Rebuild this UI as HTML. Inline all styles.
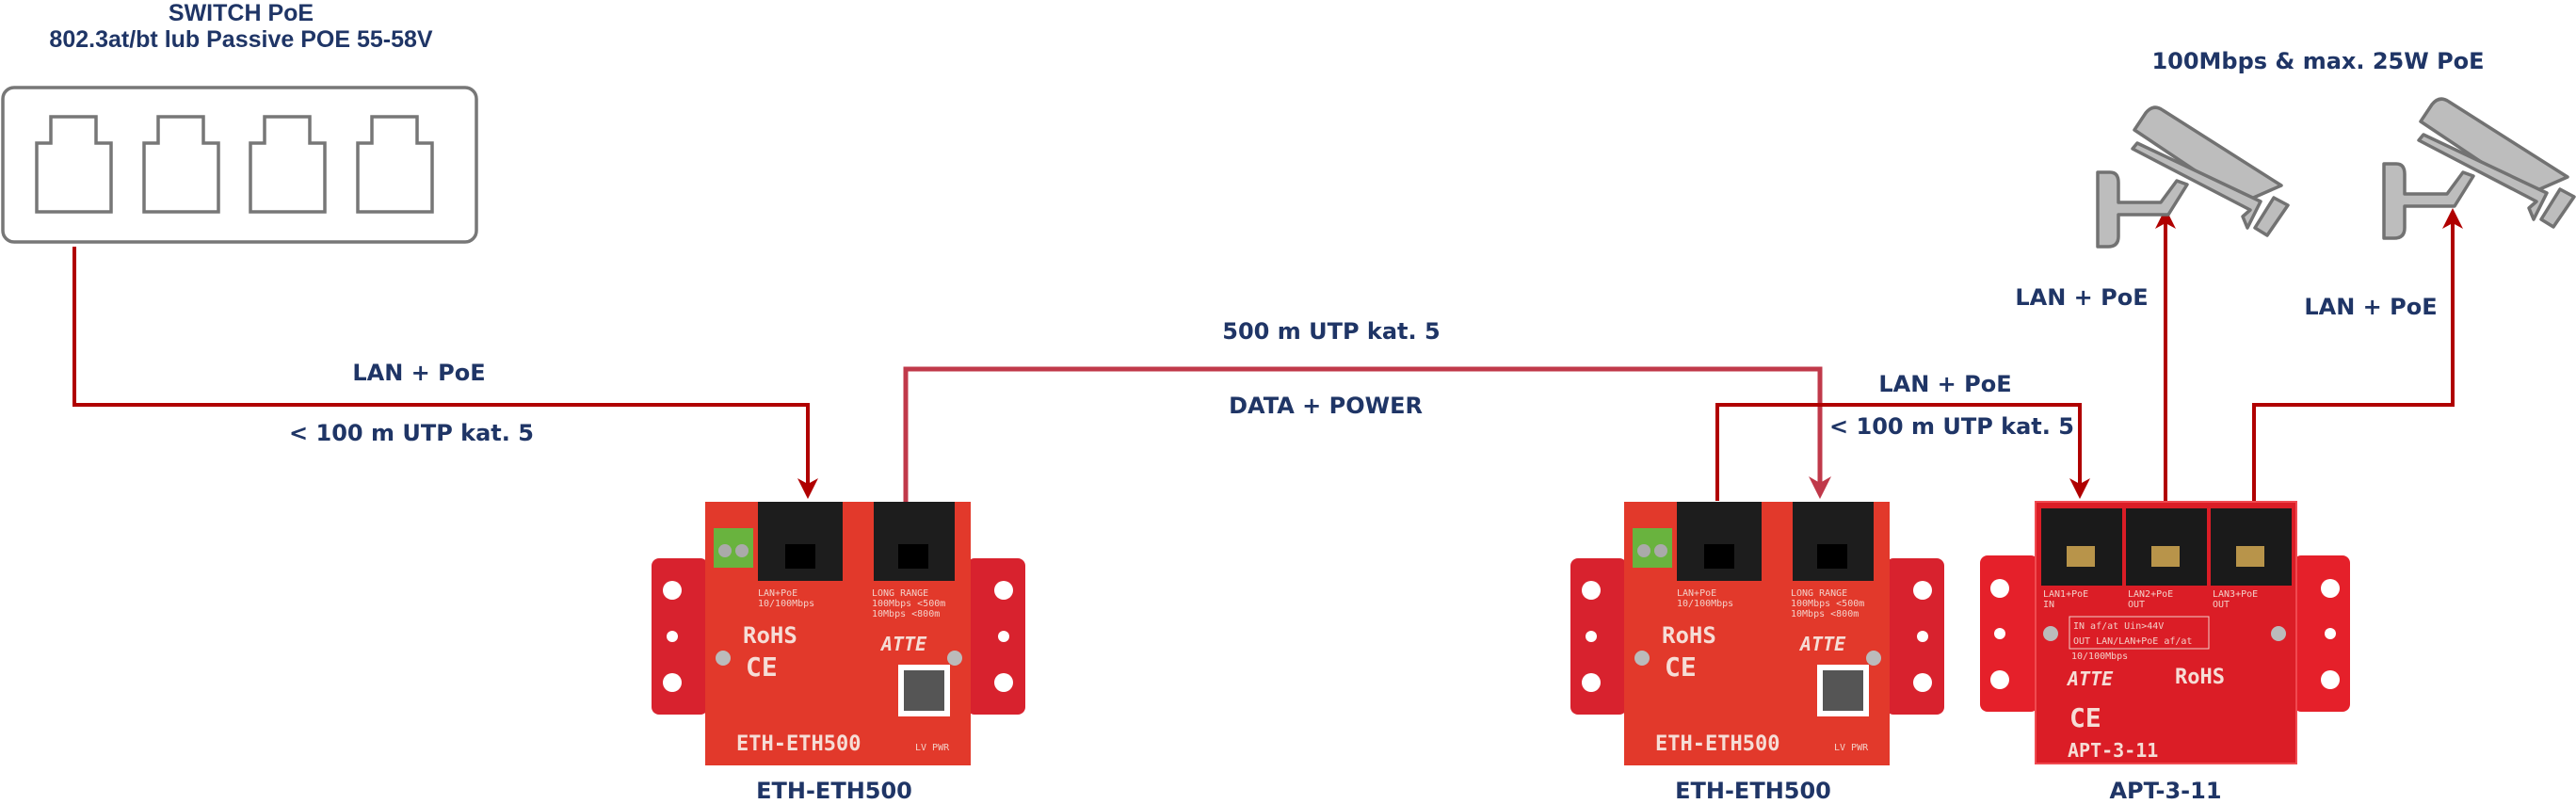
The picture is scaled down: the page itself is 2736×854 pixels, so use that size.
<!DOCTYPE html>
<html><head><meta charset="utf-8"><style>
html,body{margin:0;padding:0;background:#fff;}
svg{display:block;}
.lbl{font-family:"DejaVu Sans","Liberation Sans",sans-serif;font-weight:bold;fill:#1f3566;font-size:24px;text-anchor:middle;}
.ttl{font-family:"Liberation Sans",sans-serif;font-weight:bold;fill:#1f3566;font-size:25px;text-anchor:middle;}
.pt{font-family:"DejaVu Sans Mono","Liberation Mono",monospace;fill:#f3d0c8;font-size:10px;}
.big{font-family:"DejaVu Sans Mono","Liberation Mono",monospace;fill:#f6ddd6;font-weight:bold;}
</style></head><body>
<svg width="2736" height="854" viewBox="0 0 2736 854" xmlns="http://www.w3.org/2000/svg">
<defs>
<g id="eth">
  <rect x="0" y="60" width="60" height="166" rx="8" fill="#d8222e"/>
  <rect x="335" y="60" width="62" height="166" rx="8" fill="#d8222e"/>
  <circle cx="22" cy="94" r="10" fill="#fff"/><circle cx="22" cy="143" r="6" fill="#fff"/><circle cx="22" cy="192" r="10" fill="#fff"/>
  <circle cx="374" cy="94" r="10" fill="#fff"/><circle cx="374" cy="143" r="6" fill="#fff"/><circle cx="374" cy="192" r="10" fill="#fff"/>
  <rect x="57" y="0" width="282" height="280" fill="#e2392b"/>
  <rect x="113" y="0" width="90" height="84" fill="#1d1d1d"/>
  <rect x="142" y="45" width="32" height="26" fill="#000"/>
  <rect x="236" y="0" width="86" height="84" fill="#1d1d1d"/>
  <rect x="262" y="45" width="32" height="26" fill="#000"/>
  <rect x="66" y="28" width="42" height="42" fill="#69b33e"/>
  <circle cx="78" cy="52" r="7" fill="#aaa"/><circle cx="96" cy="52" r="7" fill="#aaa"/>
  <text class="pt" x="113" y="100">LAN+PoE</text><text class="pt" x="113" y="111">10/100Mbps</text>
  <text class="pt" x="234" y="100">LONG RANGE</text><text class="pt" x="234" y="111">100Mbps &lt;500m</text><text class="pt" x="234" y="122">10Mbps &lt;800m</text>
  <text class="big" x="97" y="150" font-size="24">RoHS</text>
  <text class="big" x="100" y="185" font-size="28">CE</text>
  <text class="big" x="244" y="158" font-size="20" font-style="italic">ATTE</text>
  <circle cx="76" cy="166" r="8" fill="#bbb"/><circle cx="322" cy="166" r="8" fill="#bbb"/>
  <rect x="262" y="173" width="55" height="55" fill="#fff"/>
  <rect x="268" y="179" width="43" height="43" fill="#555"/>
  <text class="big" x="90" y="264" font-size="22">ETH-ETH500</text>
  <text class="pt" x="280" y="264">LV PWR</text>
</g>
<g id="cam" fill="#bdbdbd" stroke="#727272" stroke-width="3.5" stroke-linejoin="round">
  <path d="M1,75 L14,75 Q23,75 23,86 L23,107 L68,107 L85,84 L96,88 L76,120 L23,120 L23,143 Q23,154 12,154 L1,154 Z"/>
  <path d="M40,30 L52,12 Q60,2 70,9 L196,89 L155,107 Z"/>
  <path d="M38,50 L43,44 L174,106 L160,134 L155,122 L163,115 Z"/>
  <path d="M188,102 L203,110 L181,142 L168,134 Z"/>
</g>
</defs>

<text class="ttl" x="256" y="22">SWITCH PoE</text>
<text class="ttl" x="256" y="50">802.3at/bt lub Passive POE 55-58V</text>
<rect x="3" y="93" width="503" height="164" rx="12" fill="#fff" stroke="#777" stroke-width="3.5"/>
<g fill="#fff" stroke="#777" stroke-width="3.5">
<path d="M39,225 L39,152 L54,152 L54,124 L102,124 L102,152 L118,152 L118,225 Z"/>
<path d="M153,225 L153,152 L168,152 L168,124 L216,124 L216,152 L232,152 L232,225 Z"/>
<path d="M266,225 L266,152 L281,152 L281,124 L329,124 L329,152 L345,152 L345,225 Z"/>
<path d="M380,225 L380,152 L395,152 L395,124 L443,124 L443,152 L459,152 L459,225 Z"/>
</g>

<g fill="none" stroke-width="4">
<path d="M79,262 L79,430 L858,430 L858,518" stroke="#b00000"/>
<path d="M962,533 L962,392 L1933,392 L1933,518" stroke="#c0394a" stroke-width="5"/>
<path d="M1824,532 L1824,430 L2209,430 L2209,518" stroke="#b00000"/>
<path d="M2300,532 L2300,232" stroke="#b00000"/>
<path d="M2394,532 L2394,430 L2605,430 L2605,232" stroke="#b00000"/>
</g>
<g fill="#b00000">
<path d="M847,508 L858,530 L869,508 L858,514 Z"/>
<path d="M2198,508 L2209,530 L2220,508 L2209,514 Z"/>
<path d="M2289,243 L2300,221 L2311,243 L2300,237 Z"/>
<path d="M2594,243 L2605,221 L2616,243 L2605,237 Z"/>
</g>
<path d="M1921,506 L1933,530 L1945,506 L1933,513 Z" fill="#c0394a"/>

<text class="lbl" x="445" y="404">LAN + PoE</text>
<text class="lbl" x="437" y="468">&lt; 100 m UTP kat. 5</text>
<text class="lbl" x="1414" y="360">500 m UTP kat. 5</text>
<text class="lbl" x="1408" y="439">DATA + POWER</text>
<text class="lbl" x="2066" y="416">LAN + PoE</text>
<text class="lbl" x="2073" y="461">&lt; 100 m UTP kat. 5</text>
<text class="lbl" x="2211" y="324">LAN + PoE</text>
<text class="lbl" x="2518" y="334">LAN + PoE</text>
<text class="lbl" x="2462" y="73">100Mbps &amp; max. 25W PoE</text>

<use href="#eth" x="692" y="533"/>
<use href="#eth" x="1668" y="533"/>

<g>
  <rect x="2103" y="590" width="62" height="166" rx="8" fill="#e5202a"/>
  <rect x="2436" y="590" width="60" height="166" rx="8" fill="#e5202a"/>
  <circle cx="2124" cy="625" r="10" fill="#fff"/><circle cx="2124" cy="673" r="6" fill="#fff"/><circle cx="2124" cy="722" r="10" fill="#fff"/>
  <circle cx="2475" cy="625" r="10" fill="#fff"/><circle cx="2475" cy="673" r="6" fill="#fff"/><circle cx="2475" cy="722" r="10" fill="#fff"/>
  <rect x="2162" y="533" width="277" height="278" fill="#db1d26" stroke="#f04a50" stroke-width="2"/>
  <rect x="2168" y="540" width="86" height="82" fill="#1a1a1a"/>
  <rect x="2258" y="540" width="86" height="82" fill="#1a1a1a"/>
  <rect x="2348" y="540" width="86" height="82" fill="#1a1a1a"/>
  <rect x="2195" y="580" width="30" height="22" fill="#b8944a"/>
  <rect x="2285" y="580" width="30" height="22" fill="#b8944a"/>
  <rect x="2375" y="580" width="30" height="22" fill="#b8944a"/>
  <text class="pt" x="2170" y="634">LAN1+PoE</text><text class="pt" x="2170" y="645">IN</text>
  <text class="pt" x="2260" y="634">LAN2+PoE</text><text class="pt" x="2260" y="645">OUT</text>
  <text class="pt" x="2350" y="634">LAN3+PoE</text><text class="pt" x="2350" y="645">OUT</text>
  <rect x="2198" y="655" width="148" height="34" fill="none" stroke="#f3d0c8" stroke-width="1"/>
  <text class="pt" x="2202" y="668">IN  af/at Uin&gt;44V</text>
  <text class="pt" x="2202" y="684">OUT LAN/LAN+PoE af/at</text>
  <text class="pt" x="2200" y="700">10/100Mbps</text>
  <text class="big" x="2196" y="728" font-size="20" font-style="italic">ATTE</text>
  <text class="big" x="2310" y="726" font-size="22">RoHS</text>
  <text class="big" x="2198" y="772" font-size="28">CE</text>
  <text class="big" x="2196" y="804" font-size="20">APT-3-11</text>
  <circle cx="2178" cy="673" r="8" fill="#bbb"/><circle cx="2420" cy="673" r="8" fill="#bbb"/>
</g>

<use href="#cam" x="2227" y="108"/>
<use href="#cam" x="2531" y="99"/>

<text class="lbl" x="886" y="848">ETH-ETH500</text>
<text class="lbl" x="1862" y="848">ETH-ETH500</text>
<text class="lbl" x="2300" y="848">APT-3-11</text>
</svg>
</body></html>
